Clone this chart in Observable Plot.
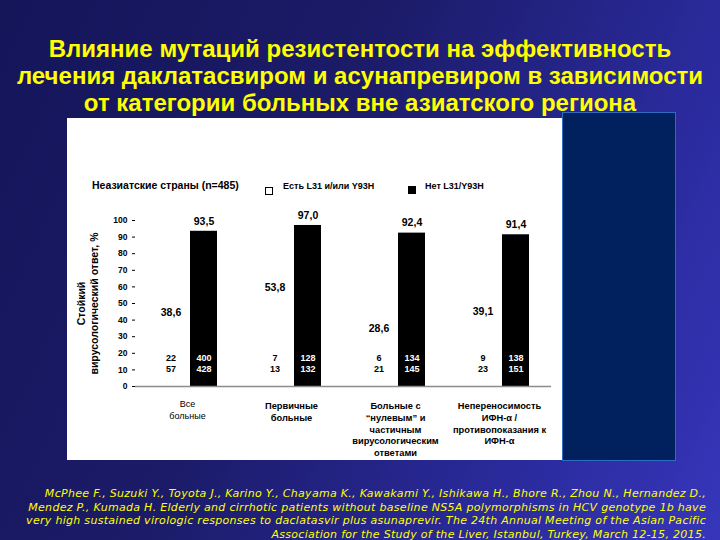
<!DOCTYPE html>
<html><head><meta charset="utf-8">
<script src="https://cdn.jsdelivr.net/npm/d3@7"></script>
<script src="https://cdn.jsdelivr.net/npm/@observablehq/plot@0.6"></script>
<style>
html,body{margin:0;padding:0;}
body{width:720px;height:540px;position:relative;overflow:hidden;
  background:linear-gradient(115deg,#15155a 0%,#1b1b68 40%,#2a2a9c 75%,#3636bb 100%);
  font-family:"Liberation Sans",Arial,sans-serif;}
#title{position:absolute;left:0;top:35px;width:720px;text-align:center;color:#ffff00;font-weight:bold;font-size:24px;line-height:27px;white-space:nowrap;}
#panel{position:absolute;left:67px;top:118px;width:495px;height:342px;background:#fff;}
#side{position:absolute;left:562px;top:112px;width:114px;height:349px;background:#00215e;border:1px solid #2b6cc4;box-sizing:border-box;}
#chart{position:absolute;left:67px;top:118px;}
.lg{position:absolute;font-weight:bold;color:#000;white-space:nowrap;}
#cite{position:absolute;right:14px;top:487px;text-align:right;color:#ffff00;font-style:italic;font-family:"DejaVu Sans",Verdana,sans-serif;font-size:11px;letter-spacing:0.3px;line-height:13.5px;white-space:nowrap;}
</style>
</head><body>
<div id="title">Влияние мутаций резистентости на эффективность<br>лечения даклатасвиром и асунапревиром в зависимости<br>от категории больных вне азиатского региона</div>
<div id="panel"></div>
<div id="side"></div>
<div id="chart"></div>
<div id="legend"></div>
<div id="cite">McPhee F., Suzuki Y., Toyota J., Karino Y., Chayama K., Kawakami Y., Ishikawa H., Bhore R., Zhou N., Hernandez D.,<br>Mendez P., Kumada H. Elderly and cirrhotic patients without baseline NS5A polymorphisms in HCV genotype 1b have<br>very high sustained virologic responses to daclatasvir plus asunaprevir. The 24th Annual Meeting of the Asian Pacific<br>Association for the Study of the Liver, Istanbul, Turkey, March 12-15, 2015.</div>
<script>
const categories = [
  "Все\nбольные",
  "Первичные\nбольные",
  "Больные с\n“нулевым” и\nчастичным\nвирусологическим\nответами",
  "Непереносимость\nИФН-α /\nпротивопоказания к\nИФН-α"
];
const seriesNames = ["Есть L31 и/или Y93H", "Нет L31/Y93H"];
const withMutation = [38.6, 53.8, 28.6, 39.1];
const withoutMutation = [93.5, 97.0, 92.4, 91.4];
const withNumerator = [22, 7, 6, 9];
const withDenominator = [57, 13, 21, 23];
const withoutNumerator = [400, 128, 134, 138];
const withoutDenominator = [428, 132, 145, 151];
const yTicks = [0, 10, 20, 30, 40, 50, 60, 70, 80, 90, 100];
const groupLabel = "Неазиатские страны (n=485)";
const yTitle = "Стойкий\nвирусологический ответ, %";

const rows = [];
categories.forEach((c, i) => {
  rows.push({cat: c, gi: i, series: seriesNames[0], value: withMutation[i], num: withNumerator[i], den: withDenominator[i]});
  rows.push({cat: c, gi: i, series: seriesNames[1], value: withoutMutation[i], num: withoutNumerator[i], den: withoutDenominator[i]});
});
const fmt = v => v.toFixed(1).replace(".", ",");
const isWith = d => d.series === seriesNames[0];
const isWithout = d => d.series === seriesNames[1];

const chart = Plot.plot({
  width: 495, height: 342,
  marginTop: 102, marginBottom: 74, marginLeft: 67, marginRight: 10,
  style: {fontFamily: "Liberation Sans, Arial, sans-serif", color: "#000", background: "transparent"},
  fx: {domain: categories, padding: 0, axis: null},
  x: {domain: seriesNames, paddingInner: 0.176, paddingOuter: 0.623, axis: null},
  y: {domain: [0, 100], axis: null},
  marks: [
    Plot.axisY({ticks: yTicks, tickSize: 3, tickPadding: 5, fontWeight: "bold", fontSize: 8.5, label: null, stroke: "#000"}),
    Plot.barY(rows.filter(isWith), {fx: "cat", x: "series", y: "value", fill: "white"}),
    Plot.barY(rows.filter(d => isWith(d) && (d.gi === 1 || d.gi === 2)), {fx: "cat", x: "series", y: "value", fill: "black", insetRight: 27}),
    Plot.barY(rows.filter(isWithout), {fx: "cat", x: "series", y: "value", fill: "black"}),
    Plot.ruleY([0], {stroke: "#8c8c8c", strokeWidth: 1.5}),
    Plot.text(rows, {fx: "cat", x: "series", y: "value", text: d => fmt(d.value), dy: -10, fontWeight: "bold", fontSize: 10.5, fill: "black"}),
    Plot.text(rows.filter(isWith), {fx: "cat", x: "series", frameAnchor: "bottom", dy: -26, text: "num", fontWeight: "bold", fontSize: 9, fill: "black", ariaLabel: "numerator"}),
    Plot.text(rows.filter(isWith), {fx: "cat", x: "series", frameAnchor: "bottom", dy: -15, text: "den", fontWeight: "bold", fontSize: 9, fill: "black"}),
    Plot.text(rows.filter(isWithout), {fx: "cat", x: "series", frameAnchor: "bottom", dy: -26, text: "num", fontWeight: "bold", fontSize: 9, fill: "white", ariaLabel: "numerator"}),
    Plot.text(rows.filter(isWithout), {fx: "cat", x: "series", frameAnchor: "bottom", dy: -15, text: "den", fontWeight: "bold", fontSize: 9, fill: "white"}),
    Plot.text(categories.slice(0, 1), {fx: d => d, text: d => d, frameAnchor: "bottom", lineAnchor: "top", dy: 12, fontSize: 9, lineHeight: 1.3, fill: "black"}),
    Plot.text(categories.slice(1), {fx: d => d, text: d => d, frameAnchor: "bottom", lineAnchor: "top", dy: 14, fontSize: 9.3, fontWeight: "bold", lineHeight: 1.27, fill: "black"}),
    Plot.text([categories[0]], {fx: d => d, text: () => yTitle, frameAnchor: "left", textAnchor: "middle", dx: -48, rotate: -90, fontSize: 10.5, fontWeight: "bold", lineHeight: 1.25, fill: "black"})
  ]
});
document.getElementById("chart").appendChild(chart);
d3.select(chart).selectAll('g[aria-label="numerator"] text').attr("text-decoration", "underline");

// legend
const lg = document.getElementById("legend");
lg.innerHTML = `
<div class="lg" style="left:92px;top:179px;font-size:10.5px;">${groupLabel}</div>
<div style="position:absolute;left:265px;top:187px;width:6px;height:6px;border:1px solid #000;background:#fff;"></div>
<div class="lg" style="left:283px;top:181px;font-size:9px;">${seriesNames[0]}</div>
<div style="position:absolute;left:408px;top:186px;width:8px;height:8px;background:#000;"></div>
<div class="lg" style="left:425px;top:181px;font-size:9px;">${seriesNames[1]}</div>`;
</script>
</body></html>
